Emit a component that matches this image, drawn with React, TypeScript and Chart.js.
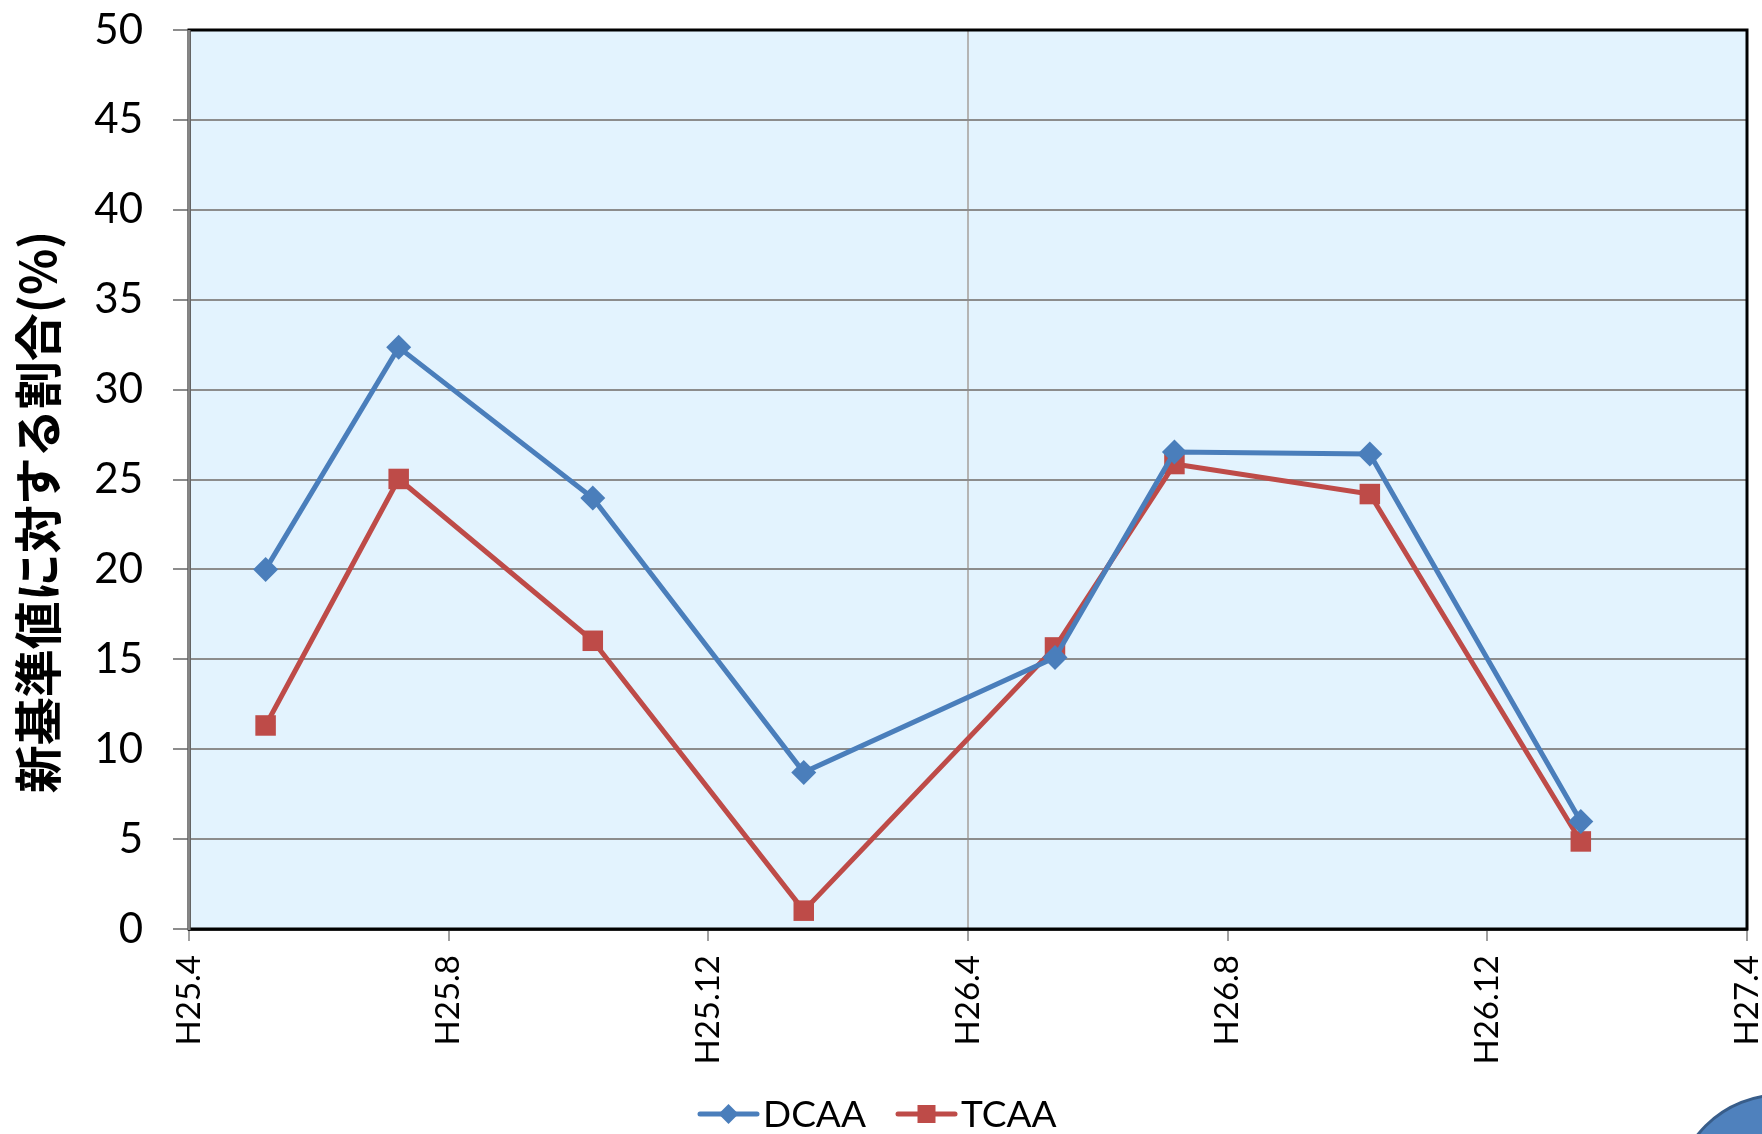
import React, { useEffect, useRef } from "react";
import { Chart, registerables } from "chart.js";

Chart.register(...registerables);

// ---- data ----
const xTickLabels = ["H25.4", "H25.8", "H25.12", "H26.4", "H26.8", "H26.12", "H27.4"];
// sampling dates, as months elapsed since H25.4
const sampleMonths = [1.18, 3.23, 6.22, 9.47, 13.34, 15.18, 18.19, 21.44];
const dcaaValues = [20.0, 32.35, 23.97, 8.71, 15.1, 26.53, 26.42, 5.98];
const tcaaValues = [11.32, 25.03, 16.03, 1.02, 15.66, 25.86, 24.19, 4.87];
const seriesNames = ["DCAA", "TCAA"];
const yTitle = "新基準値に対する割合(%)";

const BLUE = "#4a7ebb";
const RED = "#be4b48";

const W = 1762;
const H = 1134;

const decorPlugin = {
  id: "decor",
  beforeDraw(chart: any) {
    const { ctx, chartArea: a } = chart;
    ctx.save();
    ctx.fillStyle = "#ffffff";
    ctx.fillRect(0, 0, chart.width, chart.height);
    ctx.fillStyle = "#e3f3fe";
    ctx.fillRect(a.left, a.top, a.right - a.left, a.bottom - a.top);
    ctx.restore();
  },
  afterDatasetsDraw(chart: any) {
    const { ctx, chartArea: a } = chart;
    ctx.save();
    // plot border
    ctx.strokeStyle = "#000000";
    ctx.lineWidth = 3;
    ctx.strokeRect(a.left, a.top, a.right - a.left, a.bottom - a.top);
    ctx.strokeStyle = "#858585";
    ctx.beginPath();
    ctx.moveTo(a.left, a.top);
    ctx.lineTo(a.left, a.bottom + 1);
    ctx.stroke();
    ctx.restore();
  },
  afterDraw(chart: any) {
    const { ctx } = chart;
    ctx.save();
    // y axis title
    ctx.translate(38, 512);
    ctx.rotate(-Math.PI / 2);
    ctx.fillStyle = "#000000";
    ctx.font = 'bold 48px "Noto Sans CJK JP", sans-serif';
    ctx.textAlign = "center";
    ctx.textBaseline = "middle";
    ctx.fillText(yTitle, 0, 0);
    ctx.restore();

    // legend
    const ly = 1114;
    const items = [
      { x: 700, color: BLUE, style: "diamond", name: seriesNames[0] },
      { x: 898, color: RED, style: "square", name: seriesNames[1] },
    ];
    ctx.save();
    ctx.font = '37px Lato, "Open Sans", sans-serif';
    ctx.textBaseline = "middle";
    ctx.textAlign = "left";
    for (const it of items) {
      ctx.strokeStyle = it.color;
      ctx.lineWidth = 5;
      ctx.lineCap = "round";
      ctx.beginPath();
      ctx.moveTo(it.x, ly);
      ctx.lineTo(it.x + 57, ly);
      ctx.stroke();
      ctx.fillStyle = it.color;
      const cx = it.x + 28.5;
      if (it.style === "diamond") {
        ctx.beginPath();
        ctx.moveTo(cx, ly - 10);
        ctx.lineTo(cx + 10, ly);
        ctx.lineTo(cx, ly + 10);
        ctx.lineTo(cx - 10, ly);
        ctx.closePath();
        ctx.fill();
      } else {
        ctx.fillRect(cx - 9, ly - 9, 18, 18);
      }
      ctx.fillStyle = "#000000";
      ctx.fillText(it.name, it.x + 63, ly + 1);
    }
    ctx.restore();

    // decorative circle bottom-right
    ctx.save();
    ctx.beginPath();
    ctx.arc(1780, 1200, 105, 0, Math.PI * 2);
    ctx.fillStyle = "#4f81bd";
    ctx.fill();
    ctx.strokeStyle = "#385d8a";
    ctx.lineWidth = 3;
    ctx.stroke();
    ctx.restore();
  },
};

export default function App() {
  const ref = useRef<HTMLCanvasElement | null>(null);

  useEffect(() => {
    if (!ref.current) return;
    const chart = new Chart(ref.current, {
      type: "line",
      data: {
        datasets: [
          {
            label: seriesNames[0],
            data: sampleMonths.map((m, i) => ({ x: m, y: dcaaValues[i] })),
            borderColor: BLUE,
            backgroundColor: BLUE,
            borderWidth: 5,
            pointStyle: "rectRot",
            pointRadius: 12.5,
            pointBorderWidth: 0,
            pointBackgroundColor: BLUE,
            tension: 0,
          },
          {
            label: seriesNames[1],
            data: sampleMonths.map((m, i) => ({ x: m, y: tcaaValues[i] })),
            borderColor: RED,
            backgroundColor: RED,
            borderWidth: 5,
            pointStyle: "rect",
            pointRadius: 14.5,
            pointBorderWidth: 0,
            pointBackgroundColor: RED,
            tension: 0,
          },
        ],
      },
      options: {
        responsive: false,
        animation: false,
        devicePixelRatio: 1,
        layout: { padding: { left: 0, top: 30, right: 15, bottom: 0 } },
        plugins: {
          legend: { display: false },
          tooltip: { enabled: false },
        },
        scales: {
          x: {
            type: "linear",
            min: 0,
            max: 24,
            afterFit(scale: any) {
              scale.height = 205;
              scale.paddingLeft = 0;
              scale.paddingRight = 0;
            },
            ticks: {
              stepSize: 4,
              autoSkip: false,
              minRotation: 90,
              maxRotation: 90,
              padding: 14,
              color: "#000000",
              font: { family: 'Lato, "Open Sans", sans-serif', size: 33 },
              callback: (v: any) => {
                const i = Math.round(Number(v) / 4);
                return xTickLabels[i] ?? "";
              },
            },
            grid: {
              color: (c: any) =>
                c.tick && c.tick.value === 12 ? "#b4b4b4" : "rgba(0,0,0,0)",
              lineWidth: 2,
              tickLength: 12,
              tickColor: "#a0a0a0",
              tickWidth: 2,
            },
            border: { display: true, color: "#404040", width: 3 },
          },
          y: {
            min: 0,
            max: 50,
            afterFit(scale: any) {
              scale.width = 189;
              scale.paddingTop = 0;
              scale.paddingBottom = 0;
            },
            ticks: {
              stepSize: 5,
              padding: 30,
              color: "#000000",
              font: { family: 'Lato, "Open Sans", sans-serif', size: 42 },
            },
            grid: {
              color: "#8c8c8c",
              lineWidth: 2,
              tickLength: 16,
              tickColor: "#8c8c8c",
              tickWidth: 2,
            },
            border: { display: true, color: "#858585", width: 3 },
          },
        },
      },
      plugins: [decorPlugin],
    });
    return () => chart.destroy();
  }, []);

  return (
    <div style={{ position: "absolute", left: 0, top: 0, width: W, height: H }}>
      <canvas ref={ref} width={W} height={H} style={{ width: W, height: H, display: "block" }} />
    </div>
  );
}
